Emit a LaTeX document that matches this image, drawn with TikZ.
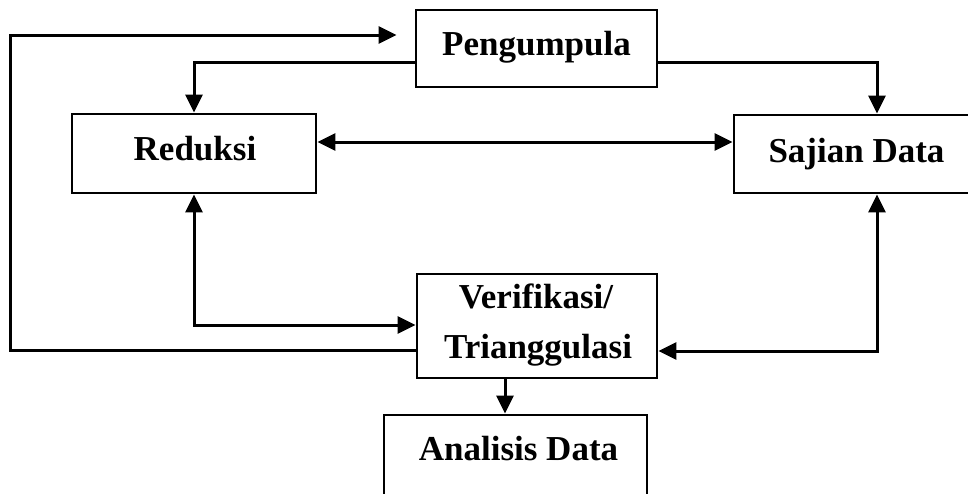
\documentclass[tikz,border=0pt]{standalone}
\usepackage{fontspec}
\setmainfont{Liberation Serif}
\usepackage{tikz}
\usetikzlibrary{arrows.meta, positioning}
\tikzstyle{box} = [rectangle, draw=black, line width=2.8pt, inner sep=0pt]
\tikzstyle{txt} = [font=\bfseries\fontsize{35}{40}\selectfont, inner sep=0pt, anchor=base]
\tikzstyle{arrow} = [line width=3pt, -{Triangle[length=18pt,width=17pt]}]
\tikzstyle{darrow} = [line width=3pt, {Triangle[length=18pt,width=17pt]}-{Triangle[length=18pt,width=17pt]}]

\begin{document}
\begin{tikzpicture}[x=1pt, y=-1pt]
        \useasboundingbox (0,0) rectangle (968,493);
        \clip (0,0) rectangle (968,493);

        % Kotak
        \node[box, minimum width=241pt, minimum height=77pt] (peng) at (536.5,48.5) {};
        \node[box, minimum width=244pt, minimum height=79pt] (red) at (194,153.5) {};
        \node[box, minimum width=245pt, minimum height=78pt] (saj) at (856.5,154) {};
        \node[box, minimum width=240pt, minimum height=104pt] (ver) at (537,326) {};
        \node[box, minimum width=263pt, minimum height=95pt] (ana) at (515.5,462.5) {};

        % Teks
        \node[txt] (pengtxt) at (536.5,55) {Pengumpula};
        \node[txt] (redtxt) at (195,160) {Reduksi};
        \node[txt] (sajtxt) at (856.5,162) {Sajian Data};
        \node[txt] (vertxt) at (536,308) {Verifikasi/};
        \node[txt] (vertxtb) at (538,358) {Trianggulasi};
        \node[txt] (anatxt) at (518.5,460) {Analisis Data};

        % Panah
        \draw[arrow, shorten >=18pt] (ver.west |- 0,350) -| (10,35) -- (peng.west |- 0,35);
        \draw[arrow] (peng.west |- 0,62) -| (red.north);
        \draw[arrow] (peng.east |- 0,62) -| (saj.north -| 877,0);
        \draw[darrow] (red.east |- 0,142) -- (saj.west |- 0,142);
        \draw[darrow] (red.south) |- (ver.west |- 0,325);
        \draw[darrow] (saj.south -| 877,0) |- (ver.east |- 0,351);
        \draw[arrow] (ver.south -| 505,0) -- (ana.north -| 505,0);

    \end{tikzpicture}
\end{document}
